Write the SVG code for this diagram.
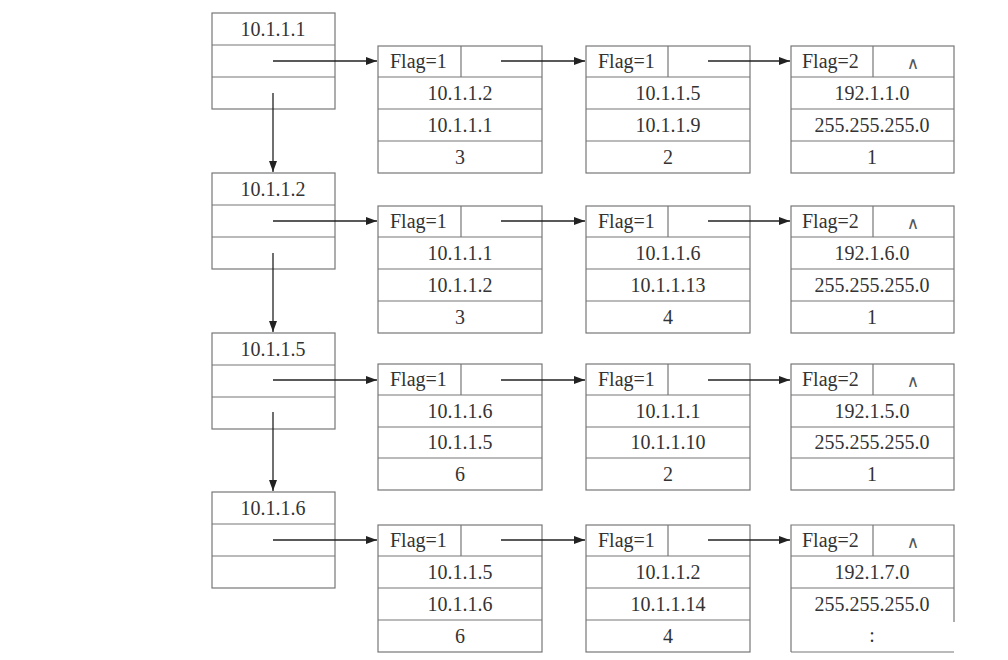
<svg xmlns="http://www.w3.org/2000/svg" width="1008" height="660" viewBox="0 0 1008 660">
<defs>
<marker id="ah" viewBox="0 0 11 8" refX="11" refY="4" markerWidth="11" markerHeight="8" markerUnits="userSpaceOnUse" orient="auto">
<path d="M0,0 L11,4 L0,8 Z" fill="#222"/>
</marker>
</defs>
<style>
.box{fill:#fff;stroke:#777;stroke-width:1.2}
.ln{stroke:#777;stroke-width:1.2;fill:none}
.t{font-family:"Liberation Serif","Times New Roman",serif;font-size:20px;fill:#333;text-anchor:middle}
.tl{font-family:"Liberation Serif","Times New Roman",serif;font-size:20px;fill:#333}
.w{font-family:"DejaVu Sans",sans-serif;font-size:17px;fill:#555;text-anchor:middle}
.c{stroke:#222;stroke-width:1.3;fill:none;marker-end:url(#ah)}
</style>
<rect width="1008" height="660" fill="#fff"/>

<!-- Left column nodes -->
<g id="head1">
<rect class="box" x="212" y="13" width="123" height="96"/>
<line class="ln" x1="212" y1="45" x2="335" y2="45"/><line class="ln" x1="212" y1="77" x2="335" y2="77"/>
<text class="t" x="273" y="36">10.1.1.1</text>
</g>
<g id="head2">
<rect class="box" x="212" y="173" width="123" height="96"/>
<line class="ln" x1="212" y1="205" x2="335" y2="205"/><line class="ln" x1="212" y1="237" x2="335" y2="237"/>
<text class="t" x="273" y="196">10.1.1.2</text>
</g>
<g id="head3">
<rect class="box" x="212" y="333" width="123" height="96"/>
<line class="ln" x1="212" y1="365" x2="335" y2="365"/><line class="ln" x1="212" y1="397" x2="335" y2="397"/>
<text class="t" x="273" y="356">10.1.1.5</text>
</g>
<g id="head4">
<rect class="box" x="212" y="492" width="123" height="96"/>
<line class="ln" x1="212" y1="524" x2="335" y2="524"/><line class="ln" x1="212" y1="556" x2="335" y2="556"/>
<text class="t" x="273" y="515">10.1.1.6</text>
</g>

<!-- Row 1 -->
<g id="r1a">
<rect class="box" x="378" y="46" width="164" height="127"/>
<line class="ln" x1="378" y1="77" x2="542" y2="77"/><line class="ln" x1="378" y1="109" x2="542" y2="109"/><line class="ln" x1="378" y1="141" x2="542" y2="141"/>
<line class="ln" x1="461" y1="46" x2="461" y2="77"/>
<text class="tl" x="390" y="68">Flag=1</text>
<text class="t" x="460" y="100">10.1.1.2</text><text class="t" x="460" y="132">10.1.1.1</text><text class="t" x="460" y="164">3</text>
</g>
<g id="r1b">
<rect class="box" x="586" y="46" width="164" height="127"/>
<line class="ln" x1="586" y1="77" x2="750" y2="77"/><line class="ln" x1="586" y1="109" x2="750" y2="109"/><line class="ln" x1="586" y1="141" x2="750" y2="141"/>
<line class="ln" x1="668" y1="46" x2="668" y2="77"/>
<text class="tl" x="598" y="68">Flag=1</text>
<text class="t" x="668" y="100">10.1.1.5</text><text class="t" x="668" y="132">10.1.1.9</text><text class="t" x="668" y="164">2</text>
</g>
<g id="r1c">
<rect class="box" x="791" y="46" width="163" height="127"/>
<line class="ln" x1="791" y1="77" x2="954" y2="77"/><line class="ln" x1="791" y1="109" x2="954" y2="109"/><line class="ln" x1="791" y1="141" x2="954" y2="141"/>
<line class="ln" x1="873" y1="46" x2="873" y2="77"/>
<text class="tl" x="802" y="68">Flag=2</text><text class="w" x="913" y="69">∧</text>
<text class="t" x="872" y="100">192.1.1.0</text><text class="t" x="872" y="132">255.255.255.0</text><text class="t" x="872" y="164">1</text>
</g>

<!-- Row 2 -->
<g id="r2a">
<rect class="box" x="378" y="206" width="164" height="127"/>
<line class="ln" x1="378" y1="237" x2="542" y2="237"/><line class="ln" x1="378" y1="269" x2="542" y2="269"/><line class="ln" x1="378" y1="301" x2="542" y2="301"/>
<line class="ln" x1="461" y1="206" x2="461" y2="237"/>
<text class="tl" x="390" y="228">Flag=1</text>
<text class="t" x="460" y="260">10.1.1.1</text><text class="t" x="460" y="292">10.1.1.2</text><text class="t" x="460" y="324">3</text>
</g>
<g id="r2b">
<rect class="box" x="586" y="206" width="164" height="127"/>
<line class="ln" x1="586" y1="237" x2="750" y2="237"/><line class="ln" x1="586" y1="269" x2="750" y2="269"/><line class="ln" x1="586" y1="301" x2="750" y2="301"/>
<line class="ln" x1="668" y1="206" x2="668" y2="237"/>
<text class="tl" x="598" y="228">Flag=1</text>
<text class="t" x="668" y="260">10.1.1.6</text><text class="t" x="668" y="292">10.1.1.13</text><text class="t" x="668" y="324">4</text>
</g>
<g id="r2c">
<rect class="box" x="791" y="206" width="163" height="127"/>
<line class="ln" x1="791" y1="237" x2="954" y2="237"/><line class="ln" x1="791" y1="269" x2="954" y2="269"/><line class="ln" x1="791" y1="301" x2="954" y2="301"/>
<line class="ln" x1="873" y1="206" x2="873" y2="237"/>
<text class="tl" x="802" y="228">Flag=2</text><text class="w" x="913" y="229">∧</text>
<text class="t" x="872" y="260">192.1.6.0</text><text class="t" x="872" y="292">255.255.255.0</text><text class="t" x="872" y="324">1</text>
</g>

<!-- Row 3 -->
<g id="r3a">
<rect class="box" x="378" y="364" width="164" height="126"/>
<line class="ln" x1="378" y1="395" x2="542" y2="395"/><line class="ln" x1="378" y1="427" x2="542" y2="427"/><line class="ln" x1="378" y1="458" x2="542" y2="458"/>
<line class="ln" x1="461" y1="364" x2="461" y2="395"/>
<text class="tl" x="390" y="386">Flag=1</text>
<text class="t" x="460" y="418">10.1.1.6</text><text class="t" x="460" y="449">10.1.1.5</text><text class="t" x="460" y="481">6</text>
</g>
<g id="r3b">
<rect class="box" x="586" y="364" width="164" height="126"/>
<line class="ln" x1="586" y1="395" x2="750" y2="395"/><line class="ln" x1="586" y1="427" x2="750" y2="427"/><line class="ln" x1="586" y1="458" x2="750" y2="458"/>
<line class="ln" x1="668" y1="364" x2="668" y2="395"/>
<text class="tl" x="598" y="386">Flag=1</text>
<text class="t" x="668" y="418">10.1.1.1</text><text class="t" x="668" y="449">10.1.1.10</text><text class="t" x="668" y="481">2</text>
</g>
<g id="r3c">
<rect class="box" x="791" y="364" width="163" height="126"/>
<line class="ln" x1="791" y1="395" x2="954" y2="395"/><line class="ln" x1="791" y1="427" x2="954" y2="427"/><line class="ln" x1="791" y1="458" x2="954" y2="458"/>
<line class="ln" x1="873" y1="364" x2="873" y2="395"/>
<text class="tl" x="802" y="386">Flag=2</text><text class="w" x="913" y="387">∧</text>
<text class="t" x="872" y="418">192.1.5.0</text><text class="t" x="872" y="449">255.255.255.0</text><text class="t" x="872" y="481">1</text>
</g>

<!-- Row 4 -->
<g id="r4a">
<rect class="box" x="378" y="525" width="164" height="127"/>
<line class="ln" x1="378" y1="556" x2="542" y2="556"/><line class="ln" x1="378" y1="588" x2="542" y2="588"/><line class="ln" x1="378" y1="620" x2="542" y2="620"/>
<line class="ln" x1="461" y1="525" x2="461" y2="556"/>
<text class="tl" x="390" y="547">Flag=1</text>
<text class="t" x="460" y="579">10.1.1.5</text><text class="t" x="460" y="611">10.1.1.6</text><text class="t" x="460" y="643">6</text>
</g>
<g id="r4b">
<rect class="box" x="586" y="525" width="164" height="127"/>
<line class="ln" x1="586" y1="556" x2="750" y2="556"/><line class="ln" x1="586" y1="588" x2="750" y2="588"/><line class="ln" x1="586" y1="620" x2="750" y2="620"/>
<line class="ln" x1="668" y1="525" x2="668" y2="556"/>
<text class="tl" x="598" y="547">Flag=1</text>
<text class="t" x="668" y="579">10.1.1.2</text><text class="t" x="668" y="611">10.1.1.14</text><text class="t" x="668" y="643">4</text>
</g>
<g id="r4c">
<path class="ln" d="M791,652 L791,525 L954,525 L954,622"/>
<line class="ln" x1="791" y1="652" x2="954" y2="652"/>
<line class="ln" x1="791" y1="556" x2="954" y2="556"/><line class="ln" x1="791" y1="588" x2="954" y2="588"/>
<line class="ln" x1="873" y1="525" x2="873" y2="556"/>
<text class="tl" x="802" y="547">Flag=2</text><text class="w" x="913" y="548">∧</text>
<text class="t" x="872" y="579">192.1.7.0</text><text class="t" x="872" y="611">255.255.255.0</text><text class="t" x="872" y="642">:</text>
</g>

<!-- Connectors -->
<g id="connectors">
<line class="c" x1="273" y1="93" x2="273" y2="172"/>
<line class="c" x1="273" y1="253" x2="273" y2="332"/>
<line class="c" x1="273" y1="412" x2="273" y2="491"/>
<line class="c" x1="273" y1="61" x2="377" y2="61"/>
<line class="c" x1="501" y1="61" x2="585" y2="61"/>
<line class="c" x1="708" y1="61" x2="790" y2="61"/>
<line class="c" x1="273" y1="221" x2="377" y2="221"/>
<line class="c" x1="501" y1="221" x2="585" y2="221"/>
<line class="c" x1="708" y1="221" x2="790" y2="221"/>
<line class="c" x1="273" y1="380" x2="377" y2="380"/>
<line class="c" x1="501" y1="380" x2="585" y2="380"/>
<line class="c" x1="708" y1="380" x2="790" y2="380"/>
<line class="c" x1="273" y1="540" x2="377" y2="540"/>
<line class="c" x1="501" y1="540" x2="585" y2="540"/>
<line class="c" x1="708" y1="540" x2="790" y2="540"/>
</g>
</svg>
